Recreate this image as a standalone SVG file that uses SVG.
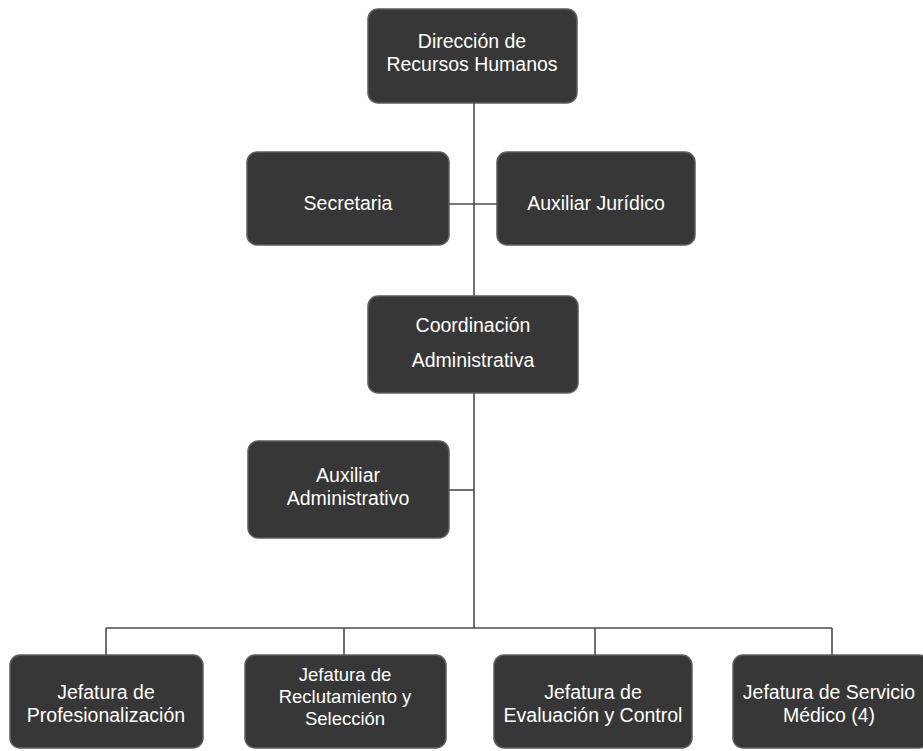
<svg xmlns="http://www.w3.org/2000/svg" width="923" height="751" viewBox="0 0 923 751">
<style>
.box{fill:#373737;stroke:#5e5e5e;stroke-width:1.5}
.t{font-family:"Liberation Sans",Arial,sans-serif;font-size:19.5px;fill:#ffffff;text-anchor:middle}
.s{font-size:18.5px}
.c{stroke:#4a4a4a;stroke-width:1.6;fill:none}
</style>
<rect width="923" height="751" fill="#ffffff"/>
<g id="connectors">
<line class="c" x1="474" y1="103" x2="474" y2="296"/>
<line class="c" x1="449" y1="204" x2="497" y2="204"/>
<line class="c" x1="474" y1="393" x2="474" y2="628"/>
<line class="c" x1="449" y1="490" x2="474" y2="490"/>
<line class="c" x1="106" y1="628" x2="832" y2="628"/>
<line class="c" x1="106" y1="628" x2="106" y2="655"/>
<line class="c" x1="344" y1="628" x2="344" y2="655"/>
<line class="c" x1="595" y1="628" x2="595" y2="655"/>
<line class="c" x1="832" y1="628" x2="832" y2="655"/>
</g>
<g id="n-direccion">
<rect class="box" x="368" y="9" width="209" height="94" rx="10"/>
<text class="t" x="472" y="48">Dirección de</text>
<text class="t" x="472" y="71">Recursos Humanos</text>
</g>
<g id="n-secretaria">
<rect class="box" x="247" y="152" width="202" height="93" rx="10"/>
<text class="t" x="348" y="210">Secretaria</text>
</g>
<g id="n-auxjuridico">
<rect class="box" x="497" y="152" width="198" height="93" rx="10"/>
<text class="t" x="596" y="210">Auxiliar Jurídico</text>
</g>
<g id="n-coordinacion">
<rect class="box" x="368" y="296" width="210" height="97" rx="10"/>
<text class="t" x="473" y="332">Coordinación</text>
<text class="t" x="473" y="367">Administrativa</text>
</g>
<g id="n-auxadmin">
<rect class="box" x="248" y="441" width="201" height="97" rx="10"/>
<text class="t" x="348" y="482">Auxiliar</text>
<text class="t" x="348" y="505">Administrativo</text>
</g>
<g id="n-profesionalizacion">
<rect class="box" x="10" y="655" width="193" height="93" rx="10"/>
<text class="t" x="106" y="699">Jefatura de</text>
<text class="t" x="106" y="722">Profesionalización</text>
</g>
<g id="n-reclutamiento">
<rect class="box" x="245" y="655" width="201" height="93" rx="10"/>
<text class="t s" x="345" y="681">Jefatura de</text>
<text class="t s" x="345" y="703">Reclutamiento y</text>
<text class="t s" x="345" y="725">Selección</text>
</g>
<g id="n-evaluacion">
<rect class="box" x="494" y="655" width="198" height="93" rx="10"/>
<text class="t" x="593" y="699">Jefatura de</text>
<text class="t" x="593" y="722">Evaluación y Control</text>
</g>
<g id="n-medico">
<rect class="box" x="733" y="655" width="196" height="93" rx="10"/>
<text class="t" x="829" y="699">Jefatura de Servicio</text>
<text class="t" x="829" y="722">Médico (4)</text>
</g>
</svg>
